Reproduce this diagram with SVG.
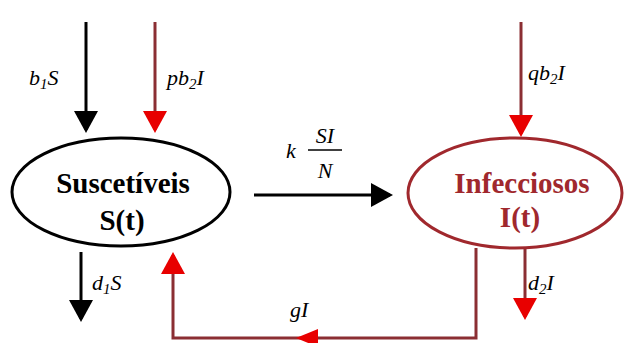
<svg xmlns="http://www.w3.org/2000/svg" width="625" height="343" viewBox="0 0 625 343">
<defs>
<marker id="ab" viewBox="0 0 22 24" refX="19" refY="12" markerWidth="22" markerHeight="24" markerUnits="userSpaceOnUse" orient="auto">
<path d="M0,0 L22,12 L0,24 Z" fill="#000"/>
</marker>
<marker id="ar" viewBox="0 0 22 24" refX="19" refY="12" markerWidth="22" markerHeight="24" markerUnits="userSpaceOnUse" orient="auto">
<path d="M0,0 L22,12 L0,24 Z" fill="#e80000"/>
</marker>
</defs>
<rect width="625" height="343" fill="#fff"/>
<g id="connectors" stroke-width="3" fill="none">
<line stroke="#000" x1="86" y1="22" x2="86" y2="130" marker-end="url(#ab)"/>
<line stroke="#8b2e33" x1="155" y1="22" x2="155" y2="130" marker-end="url(#ar)"/>
<line stroke="#8b2e33" x1="521" y1="22" x2="521" y2="134" marker-end="url(#ar)"/>
<line stroke="#000" x1="254" y1="195" x2="390" y2="195" marker-end="url(#ab)"/>
<line stroke="#000" x1="81" y1="252" x2="81" y2="319" marker-end="url(#ab)"/>
<line stroke="#8b2e33" x1="525" y1="248" x2="525" y2="317" marker-end="url(#ar)"/>
<polyline stroke="#8b2e33" points="476,248 476,338 173,338 173,255" marker-end="url(#ar)"/>
<path d="M296,338 L318,329 L318,347 Z" fill="#e80000" stroke="none"/>
</g>
<g id="labels">
<text font-family="Liberation Serif" font-style="italic" font-size="22" x="29" y="85">b<tspan font-size="15" dy="4">1</tspan><tspan dy="-4">S</tspan></text>
<text font-family="Liberation Serif" font-style="italic" font-size="22" x="167" y="85">pb<tspan font-size="15" dy="4">2</tspan><tspan dy="-4">I</tspan></text>
<text font-family="Liberation Serif" font-style="italic" font-size="22" x="528" y="80">qb<tspan font-size="15" dy="4">2</tspan><tspan dy="-4">I</tspan></text>
<text font-family="Liberation Serif" font-style="italic" font-size="22" x="92" y="290">d<tspan font-size="15" dy="4">1</tspan><tspan dy="-4">S</tspan></text>
<text font-family="Liberation Serif" font-style="italic" font-size="22" x="528" y="290">d<tspan font-size="15" dy="4">2</tspan><tspan dy="-4">I</tspan></text>
<text font-family="Liberation Serif" font-style="italic" font-size="22" x="290" y="317">gI</text>
<text font-family="Liberation Serif" font-style="italic" font-size="22" x="286" y="158">k</text>
<text font-family="Liberation Serif" font-style="italic" font-size="22" x="325" y="143" text-anchor="middle">SI</text>
<line x1="308" y1="150" x2="342" y2="150" stroke="#000" stroke-width="1.5"/>
<text font-family="Liberation Serif" font-style="italic" font-size="22" x="325" y="178" text-anchor="middle">N</text>
</g>
<g id="node-S">
<ellipse cx="121" cy="192" rx="109" ry="54" fill="#fff" stroke="#000" stroke-width="3"/>
<text font-family="Liberation Serif" font-weight="bold" font-size="29" text-anchor="middle" x="123" y="193" fill="#000">Suscetíveis</text>
<text font-family="Liberation Serif" font-weight="bold" font-size="29" text-anchor="middle" x="122" y="230" fill="#000">S(t)</text>
</g>
<g id="node-I">
<ellipse cx="515" cy="193" rx="107" ry="55" fill="#fff" stroke="#a0282d" stroke-width="3"/>
<text font-family="Liberation Serif" font-weight="bold" font-size="29" text-anchor="middle" x="522" y="193" fill="#a0282d">Infecciosos</text>
<text font-family="Liberation Serif" font-weight="bold" font-size="29" text-anchor="middle" x="520" y="227" fill="#a0282d">I(t)</text>
</g>
</svg>
